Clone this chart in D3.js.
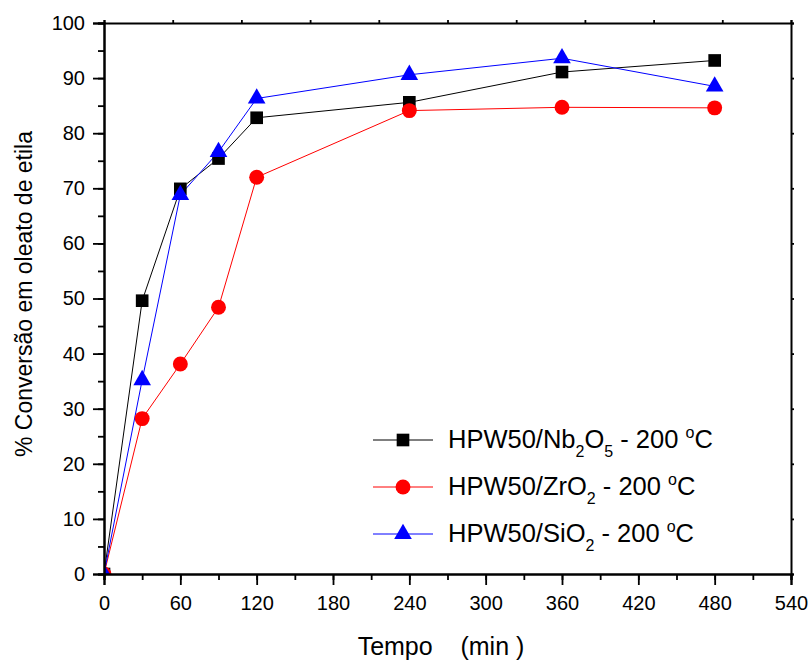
<!DOCTYPE html>
<html>
<head>
<meta charset="utf-8">
<script src="https://cdn.jsdelivr.net/npm/d3@7/dist/d3.min.js"></script>
<style>
  body { margin: 0; background: #fff; }
  text { font-family: "Liberation Sans", Arial, sans-serif; }
</style>
</head>
<body>
<svg id="chart" width="811" height="661"></svg>
<script>
// Reaction time (min)
const tempo = [0, 30, 60, 90, 120, 240, 360, 480];

// Conversion to ethyl oleate (%) for each catalyst
const nb2o5 = [0, 49.6, 69.9, 75.4, 82.8, 85.6, 91.1, 93.2];
const zro2  = [0, 28.2, 38.1, 48.4, 72.0, 84.1, 84.7, 84.6];
const sio2  = [0, 35.2, 68.8, 76.6, 86.3, 90.6, 93.6, 88.5];

const xTicks = [0, 60, 120, 180, 240, 300, 360, 420, 480, 540];
const yTicks = [0, 10, 20, 30, 40, 50, 60, 70, 80, 90, 100];

const series = [
  { name: "Nb", sub1: "2", mid: "O", sub2: "5", values: nb2o5, color: "#000000", symbol: d3.symbolSquare },
  { name: "Zr", sub1: null, mid: "O", sub2: "2", values: zro2, color: "#ff0000", symbol: d3.symbolCircle },
  { name: "Si", sub1: null, mid: "O", sub2: "2", values: sio2, color: "#0000ff", symbol: d3.symbolTriangle }
];

const svg = d3.select("#chart");
const L = 104, R = 791, T = 23, B = 574;

const x = d3.scaleLinear().domain([0, 540]).range([L, R]);
const y = d3.scaleLinear().domain([0, 100]).range([B, T]);
// Top frame edge carries its own ten evenly spaced ticks
const xTop = d3.scaleLinear().domain([0, 10]).range([L, R]);

const minorX = d3.range(0, 541, 30);
const minorY = d3.range(0, 101, 5);

// Plot-area clip so marks sitting on the axes are cut at the frame
svg.append("defs").append("clipPath").attr("id", "plot-clip")
  .append("rect").attr("x", L).attr("y", T).attr("width", R - L).attr("height", B - T);

function styleAxis(g) {
  g.select(".domain").attr("stroke", "#000").attr("stroke-width", 2);
  g.selectAll(".tick line").attr("stroke", "#000").attr("stroke-width", 1.8);
  g.selectAll(".tick text").attr("font-size", 20).attr("fill", "#000")
    .attr("font-family", "'Liberation Sans', Arial, sans-serif");
}

// Lines and markers
const line = d3.line().x((d, i) => x(tempo[i])).y(d => y(d));

function markerSize(sym) {
  if (sym === d3.symbolSquare) return 160;
  if (sym === d3.symbolCircle) return 175;
  return 135;
}

const plot = svg.append("g").attr("clip-path", "url(#plot-clip)");
series.forEach(s => {
  plot.append("path").datum(s.values)
    .attr("d", line).attr("fill", "none")
    .attr("stroke", s.color).attr("stroke-width", 1);
});
series.forEach(s => {
  plot.append("g").selectAll("path").data(s.values).join("path")
    .attr("transform", (d, i) => `translate(${x(tempo[i])},${y(d)})`)
    .attr("d", d3.symbol().type(s.symbol).size(markerSize(s.symbol)))
    .attr("fill", s.color);
});

// Minor ticks first, then major ticks with labels
svg.append("g").attr("transform", `translate(0,${B})`)
  .call(d3.axisBottom(x).tickValues(minorX).tickSize(6).tickFormat(""))
  .call(styleAxis);
svg.append("g").attr("transform", `translate(0,${B})`)
  .call(d3.axisBottom(x).tickValues(xTicks).tickSize(11).tickPadding(11).tickFormat(d3.format("d")))
  .call(styleAxis);

svg.append("g").attr("transform", `translate(${L},0)`)
  .call(d3.axisLeft(y).tickValues(minorY).tickSize(6).tickFormat(""))
  .call(styleAxis);
svg.append("g").attr("transform", `translate(${L},0)`)
  .call(d3.axisLeft(y).tickValues(yTicks).tickSize(11).tickPadding(8).tickFormat(d3.format("d")))
  .call(styleAxis);

// Top and right frame axes without labels
svg.append("g").attr("transform", `translate(0,${T})`)
  .call(d3.axisTop(xTop).ticks(10).tickSize(3).tickFormat(""))
  .call(styleAxis);
svg.append("g").attr("transform", `translate(${R},0)`)
  .call(d3.axisRight(y).tickValues(yTicks).tickSize(3).tickFormat(""))
  .call(styleAxis);

// Legend
const legY = [440, 487, 534];
series.forEach((s, i) => {
  const g = svg.append("g").attr("transform", `translate(0,${legY[i]})`);
  g.append("line").attr("x1", 373).attr("x2", 433).attr("y1", 0).attr("y2", 0)
    .attr("stroke", s.color).attr("stroke-width", 1);
  g.append("path").attr("transform", "translate(403,0)")
    .attr("d", d3.symbol().type(s.symbol).size(markerSize(s.symbol)))
    .attr("fill", s.color);
  const t = g.append("text").attr("x", 448).attr("y", 8).attr("font-size", 25.5).attr("fill", "#000");
  t.append("tspan").text("HPW50/" + s.name);
  if (s.sub1) t.append("tspan").attr("font-size", 16).attr("dy", 9).text(s.sub1);
  t.append("tspan").attr("dy", s.sub1 ? -9 : 0).text(s.mid);
  t.append("tspan").attr("font-size", 16).attr("dy", 9).text(s.sub2);
  t.append("tspan").attr("dy", -9).text(" - 200 ");
  t.append("tspan").attr("font-size", 16).attr("dy", -10).text("o");
  t.append("tspan").attr("dy", 10).text("C");
});

// Axis titles
svg.append("text").attr("x", 441).attr("y", 655).attr("text-anchor", "middle")
  .attr("font-size", 25).attr("fill", "#000").attr("xml:space", "preserve")
  .text("Tempo    (min )");
svg.append("text").attr("transform", `translate(32,294) rotate(-90)`)
  .attr("text-anchor", "middle").attr("font-size", 23).attr("fill", "#000")
  .text("% Conversão em oleato de etila");
</script>
</body>
</html>
